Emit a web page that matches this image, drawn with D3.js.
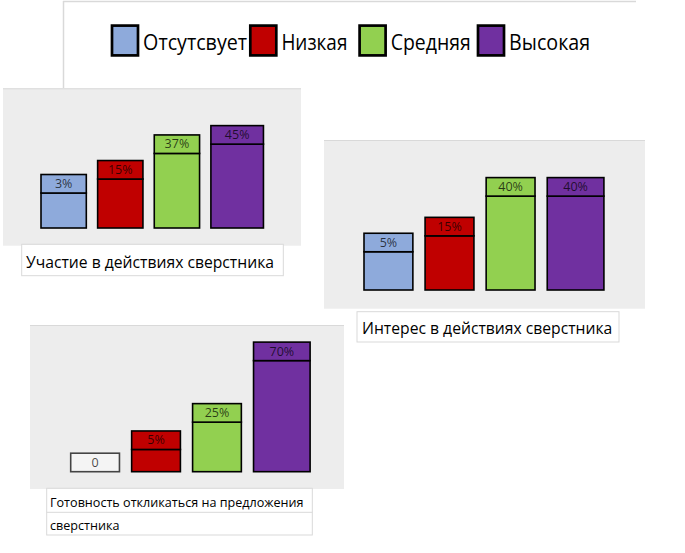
<!DOCTYPE html>
<html>
<head>
<meta charset="utf-8">
<script src="https://cdn.jsdelivr.net/npm/d3@7"></script>
<style>
  html, body { margin: 0; padding: 0; background: #ffffff; }
  svg { display: block; }
</style>
</head>
<body>
<div id="chart"></div>
<script>
// ---------- data ----------
const categories = ["Отсутсвует", "Низкая", "Средняя", "Высокая"];
const participationValues = [3, 15, 37, 45];
const interestValues = [5, 15, 40, 40];
const readinessValues = [0, 5, 25, 70];
const participationTitle = ["Участие в действиях сверстника"];
const interestTitle = ["Интерес в действиях сверстника"];
const readinessTitle = ["Готовность откликаться на предложения", "сверстника"];

// ---------- styles ----------
const colorScale = d3.scaleOrdinal()
  .domain(categories)
  .range(["#8eaadb", "#c00000", "#92d050", "#7030a0"]);
const zeroFill = "#f4f4f4";
const panelBg = "#ededed";
const frameColor = "#d9d9d9";
const legendFont = "'Liberation Sans Narrow', 'Open Sans', sans-serif";
const labelFont = "'Liberation Sans Narrow', 'Open Sans', sans-serif";
const captionFont = "'Open Sans', 'Noto Sans', sans-serif";

const W = 685, H = 553;
const svg = d3.select("#chart").append("svg").attr("width", W).attr("height", H);

// ---------- legend ----------
svg.append("line").attr("x1", 63).attr("x2", 636).attr("y1", 1.5).attr("y2", 1.5)
  .attr("stroke", frameColor).attr("stroke-width", 1.5);
svg.append("line").attr("x1", 63.5).attr("x2", 63.5).attr("y1", 1).attr("y2", 88)
  .attr("stroke", frameColor).attr("stroke-width", 1.5);

const legendX = [110.7, 249, 358.3, 476.7];
const legendTextW = [104, 66, 80, 81];
const lg = svg.append("g");
const items = lg.selectAll("g").data(categories).enter().append("g")
  .attr("transform", (d, i) => `translate(${legendX[i]},0)`);
items.append("rect")
  .attr("x", 1.3).attr("y", 25.6).attr("width", 26).attr("height", 29.8)
  .attr("fill", d => colorScale(d)).attr("stroke", "#000").attr("stroke-width", 2.7);
items.append("text")
  .attr("x", 32.4).attr("y", 50)
  .attr("font-family", legendFont).attr("font-size", 22).attr("fill", "#000")
  .attr("textLength", (d, i) => legendTextW[i]).attr("lengthAdjust", "spacingAndGlyphs")
  .text(d => d);

// ---------- panels ----------
const panels = [
  { values: participationValues, title: participationTitle,
    bg: [3, 88.3, 298, 157.4], base: 228, xr: [41, 256.2], hr: [31.5, 147.9],
    cap: [21.7, 244.3, 261.6, 31.4], capFs: 15.7, capX: 26, capY: [267.7], capDiv: null },
  { values: interestValues, title: interestTitle,
    bg: [324, 140, 321, 168.7], base: 290, xr: [364, 596.1], hr: [30.3, 189.3],
    cap: [357, 311.7, 262, 30.3], capFs: 15.7, capX: 362, capY: [334], capDiv: null },
  { values: readinessValues, title: readinessTitle,
    bg: [30, 325, 314, 164], base: 471.7, xr: [70.7, 302.3], hr: [15.4, 152.1],
    cap: [46.7, 488.3, 265.6, 46.7], capFs: 12.6, capX: 50, capY: [506.7, 530], capDiv: 512.3 }
];

const labelH = 18.5;
const lastWidthFactor = 1.16;

panels.forEach(p => {
  const g = svg.append("g");
  g.append("rect").attr("x", p.bg[0]).attr("y", p.bg[1]).attr("width", p.bg[2]).attr("height", p.bg[3])
    .attr("fill", panelBg);
  g.append("line").attr("x1", p.bg[0]).attr("x2", p.bg[0] + p.bg[2])
    .attr("y1", p.bg[1] + 0.5).attr("y2", p.bg[1] + 0.5)
    .attr("stroke", frameColor).attr("stroke-width", 1);

  const x = d3.scaleBand().domain(categories).range(p.xr).paddingInner(0.2);
  const h = d3.scaleLinear().domain([0, 100]).range(p.hr);
  const bodyH = v => v > 0 ? h(v) : 0;
  const bw = (d, i) => i === categories.length - 1 ? x.bandwidth() * lastWidthFactor : x.bandwidth();

  const data = categories.map((c, i) => ({ c, v: p.values[i], i }));
  const bars = g.selectAll("g.bar").data(data).enter().append("g").attr("class", "bar");

  // body
  bars.filter(d => d.v > 0).append("rect")
    .attr("x", d => x(d.c)).attr("width", d => bw(d, d.i))
    .attr("y", d => p.base - bodyH(d.v)).attr("height", d => bodyH(d.v))
    .attr("fill", d => colorScale(d.c)).attr("stroke", "#000").attr("stroke-width", 1.6);
  // label box
  bars.append("rect")
    .attr("x", d => x(d.c)).attr("width", d => bw(d, d.i))
    .attr("y", d => p.base - bodyH(d.v) - labelH).attr("height", labelH)
    .attr("fill", d => d.v > 0 ? colorScale(d.c) : zeroFill)
    .attr("stroke", d => d.v > 0 ? "#000" : "#444").attr("stroke-width", 1.6);
  bars.append("text")
    .attr("x", d => x(d.c) + bw(d, d.i) / 2)
    .attr("y", d => p.base - bodyH(d.v) - labelH / 2 + 4.2)
    .attr("text-anchor", "middle")
    .attr("font-family", labelFont).attr("font-size", 12.5)
    .attr("fill", "#000").attr("fill-opacity", 0.72)
    .text(d => d.v > 0 ? d.v + "%" : "0");

  // caption
  g.append("rect").attr("x", p.cap[0]).attr("y", p.cap[1]).attr("width", p.cap[2]).attr("height", p.cap[3])
    .attr("fill", "#fff").attr("stroke", frameColor).attr("stroke-width", 1);
  if (p.capDiv) {
    g.append("line").attr("x1", p.cap[0]).attr("x2", p.cap[0] + p.cap[2])
      .attr("y1", p.capDiv).attr("y2", p.capDiv).attr("stroke", frameColor).attr("stroke-width", 1);
  }
  g.selectAll("text.cap").data(p.title).enter().append("text").attr("class", "cap")
    .attr("x", p.capX).attr("y", (d, i) => p.capY[i])
    .attr("font-family", captionFont).attr("font-size", p.capFs).attr("fill", "#000")
    .text(d => d);
});
</script>
</body>
</html>
